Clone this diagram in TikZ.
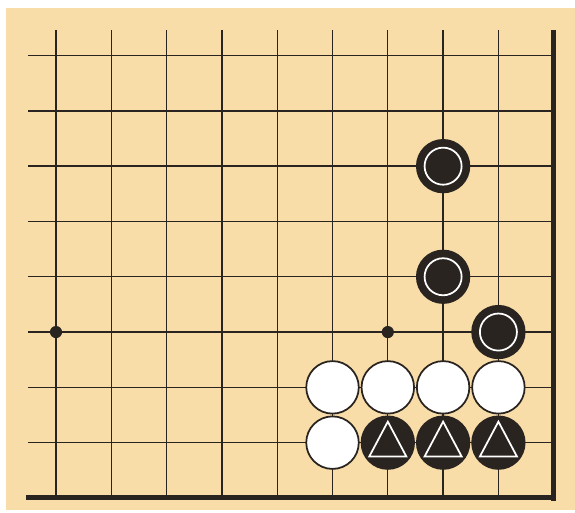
\documentclass[tikz,border=0pt]{standalone}
\usepackage{xcolor}
\usepackage{tikz}
\definecolor{board}{HTML}{F8DDA9}
\definecolor{ink}{HTML}{2A2420}
\tikzset{
  grid line/.style={ink,line width=0.7pt},
  edge line/.style={ink,line width=2.6pt},
  white stone/.style={fill=white,draw=ink,line width=0.9pt},
  black stone/.style={fill=ink,draw=ink,line width=0.9pt},
  stone mark/.style={draw=white,line width=0.9pt}
}
\begin{document}
\begin{tikzpicture}[x=1cm,y=1cm]
\useasboundingbox (-1.013,-0.271) rectangle (9.385,9.005);
\fill[white] (-1.013,-0.271) rectangle (9.385,9.005);
\fill[board] (-0.904,-0.217) rectangle (9.385,8.86);
% grid
\foreach \i in {0,...,8} \draw[grid line] (\i,0)--(\i,8.46);
\foreach \j in {1,...,8} \draw[grid line] (-0.506,\j)--(9,\j);
\draw[edge line] (-0.54,0)--(9.05,0);
\draw[edge line] (9,-0.05)--(9,8.46);
% hoshi
\fill[ink] (0,3) circle (0.11); \fill[ink] (6,3) circle (0.11);
% white stones
\foreach \p in {(5,2),(6,2),(7,2),(8,2),(5,1)} \draw[white stone] \p circle (0.475);
% black stones, circle marks
\foreach \p in {(7,6),(7,4),(8,3)} {
  \draw[black stone] \p circle (0.475);
  \draw[stone mark] \p circle (0.335);
}
% black stones, triangle marks
\foreach \i in {6,7,8} {
  \draw[black stone] (\i,1) circle (0.475);
  \draw[stone mark,line join=miter] (\i,1.38)--(\i+0.335,0.75)--(\i-0.335,0.75)--cycle;
}
\end{tikzpicture}
\end{document}
